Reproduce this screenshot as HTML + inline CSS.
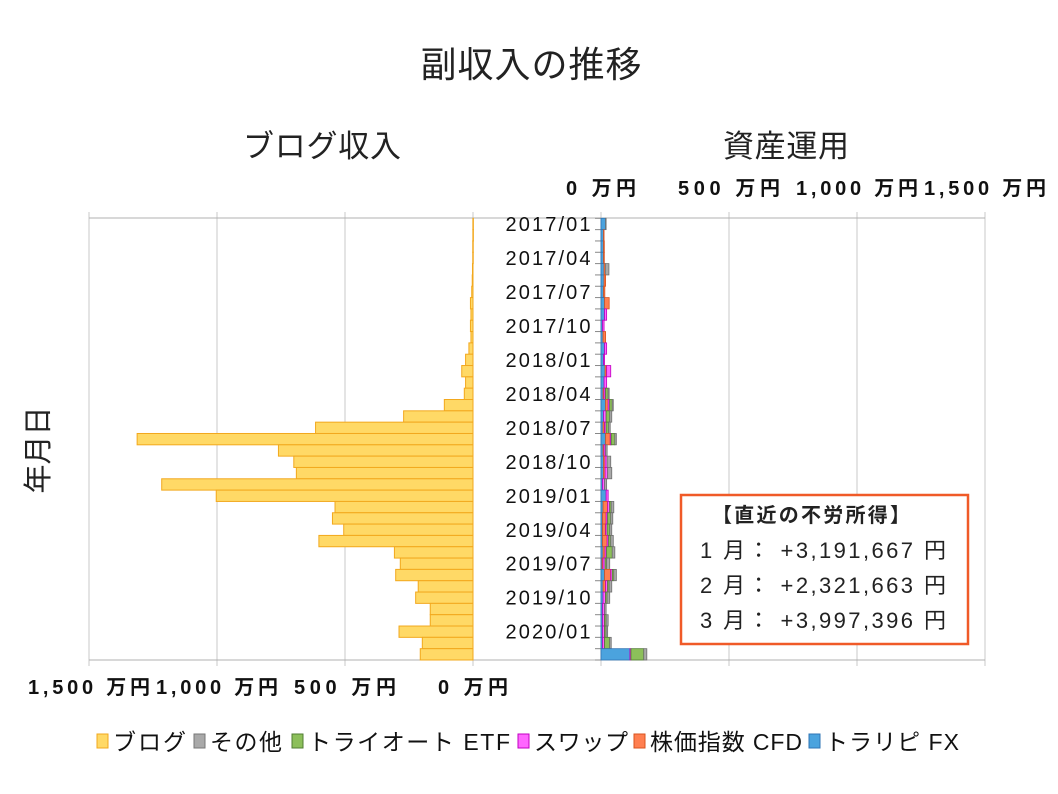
<!DOCTYPE html>
<html><head><meta charset="utf-8"><style>
html,body{margin:0;padding:0;background:#fff;}
svg{display:block;font-family:"Liberation Sans","Noto Sans CJK JP",sans-serif;}
</style></head><body>
<svg id="c" width="1058" height="794" viewBox="0 0 1058 794" xmlns="http://www.w3.org/2000/svg">
<text x="531" y="77" font-size="36" text-anchor="middle" fill="#222" textLength="221">副収入の推移</text>
<text x="322" y="157" font-size="31" text-anchor="middle" fill="#222" textLength="158">ブログ収入</text>
<text x="786" y="157" font-size="31" text-anchor="middle" fill="#222" textLength="126">資産運用</text>
<text x="0" y="0" font-size="29" fill="#222" transform="translate(48,450) rotate(-90)" text-anchor="middle">年月日</text>
<g id="grid"></g>
<g id="marks"></g>
<g id="labels"></g>
<g id="legend"></g>
<rect x="681" y="495" width="287" height="149" fill="#fff" stroke="#F05A28" stroke-width="2.5"/>
<text x="712" y="522" font-size="20" font-weight="bold" fill="#222" textLength="198">【直近の不労所得】</text>
<text x="700" y="558" font-size="22" fill="#222" textLength="246">1 月：  +3,191,667 円</text>
<text x="700" y="593" font-size="22" fill="#222" textLength="246">2 月：  +2,321,663 円</text>
<text x="700" y="628" font-size="22" fill="#222" textLength="246">3 月：  +3,997,396 円</text>
</svg>
<script>
const months = ["2017/01","2017/02","2017/03","2017/04","2017/05","2017/06","2017/07","2017/08","2017/09","2017/10","2017/11","2017/12","2018/01","2018/02","2018/03","2018/04","2018/05","2018/06","2018/07","2018/08","2018/09","2018/10","2018/11","2018/12","2019/01","2019/02","2019/03","2019/04","2019/05","2019/06","2019/07","2019/08","2019/09","2019/10","2019/11","2019/12","2020/01","2020/02","2020/03"];
const blog = [0.5,0.5,1,1,2,3,5,10,8,10,8,16,29,44,29,34,112,271,615,1312,760,700,690,1216,1003,539,549,505,602,307,284,302,214,224,167,167,289,198,206];
const fx =   [18,10,10,10,12,12,10,14,14,6,8,14,10,16,12,8,18,10,8,18,8,10,10,6,20,8,6,6,6,8,4,14,8,8,6,6,6,6,113];
const cfd =  [0,2,3,3,5,6,5,18,0,0,10,0,0,6,0,4,10,0,6,18,4,6,6,0,0,18,14,12,18,8,4,24,10,0,0,0,0,0,0];
const swap = [0,0,0,0,0,0,0,0,8,6,0,8,4,16,10,6,6,10,6,4,6,8,10,8,8,8,6,6,6,6,8,6,8,10,8,8,8,8,4];
const etf =  [0,0,0,0,0,0,0,0,0,0,0,0,0,0,0,10,10,14,10,14,0,0,0,0,0,6,12,10,8,22,6,6,6,6,0,6,6,20,50];
const other= [2,0,0,0,14,0,0,0,0,0,0,0,0,0,0,4,4,8,6,6,6,14,16,8,0,10,8,8,10,10,12,10,10,10,6,8,6,6,12];
const leftTicks = ["1,500 万円","1,000 万円","500 万円","0 万円"];
const leftTickVals = [1500,1000,500,0];
const rightTicks = ["0 万円","500 万円","1,000 万円","1,500 万円"];
const rightTickVals = [0,500,1000,1500];

const NS="http://www.w3.org/2000/svg";
const top0=218.3, bot=660, n=months.length, rowH=(bot-top0)/n;
const L0=473, R0=601, k=128/500;
const xl=v=>L0-v*k, xr=v=>R0+v*k, yr=i=>top0+i*rowH;
function mk(tag,attrs,parent){const e=document.createElementNS(NS,tag);for(const a in attrs)e.setAttribute(a,attrs[a]);parent.appendChild(e);return e;}
function tw(s){return s.startsWith('1,')?122:(s.startsWith('500')?102:70);}
const grid=document.getElementById('grid'), marks=document.getElementById('marks'), labels=document.getElementById('labels'), legend=document.getElementById('legend');
leftTickVals.forEach((v,i)=>{const l=mk('line',{x1:xl(v),x2:xl(v),y1:212,y2:666,stroke:'#c8c8c8','stroke-width':1},grid);


const t=mk('text',{x:xl(v),y:694,'font-size':20,'font-weight':'bold','text-anchor':'middle',fill:'#111',textLength:tw(leftTicks[i])},labels);t.textContent=leftTicks[i];

});
rightTickVals.forEach((v,i)=>{const l=mk('line',{x1:xr(v),x2:xr(v),y1:212,y2:666,stroke:'#c8c8c8','stroke-width':1},grid);


const t=mk('text',{x:xr(v),y:195,'font-size':20,'font-weight':'bold','text-anchor':'middle',fill:'#111',textLength:tw(rightTicks[i])},labels);t.textContent=rightTicks[i];

});
const hl=mk('line',{x1:89,x2:985,y1:218,y2:218,stroke:'#b0b0b0'},grid);


const bl=mk('line',{x1:89,x2:985,y1:bot,y2:bot,stroke:'#b0b0b0'},grid);


const al=mk('line',{x1:R0,x2:R0,y1:218,y2:bot,stroke:'#888'},grid);


for(let i=0;i<=n;i++){const tk=mk('line',{x1:R0-6,x2:R0,y1:yr(i),y2:yr(i),stroke:'#888'},grid);

}
blog.forEach((v,i)=>{const r=mk('rect',{x:xl(v),y:yr(i),width:Math.max(v*k,0.5),height:rowH,fill:'#FFD966',stroke:'#F2A81D','stroke-width':1},marks);

});
const series=[[fx,'#4BA3DE','#2F75B5','fx-bar'],[cfd,'#FF7F50','#D9531E','cfd-bar'],[swap,'#FF66FF','#C000C0','swap-bar'],[etf,'#8CBF5A','#507E32','etf-bar'],[other,'#A9A9A9','#6f6f6f','other-bar']];
for(let i=0;i<n;i++){let acc=0;series.forEach(s=>{const v=s[0][i];if(v>0){const r=mk('rect',{x:xr(acc),y:yr(i),width:v*k,height:rowH,fill:s[1],stroke:s[2],'stroke-width':0.8},marks);


acc+=v;}});}
months.forEach((m,i)=>{if(i%3===0){const t=mk('text',{x:548,y:yr(i)+rowH/2+7,'font-size':20,'text-anchor':'middle',fill:'#111',textLength:85},labels);t.textContent=m;

}});
const leg=[['ブログ','#FFD966','#F2A81D',97,73],['その他','#A9A9A9','#777',194,72],['トライオート ETF','#8CBF5A','#507E32',292,202],['スワップ','#FF66FF','#C000C0',518,94],['株価指数 CFD','#FF7F50','#D9531E',634,152],['トラリピ FX','#4BA3DE','#2F75B5',809,134]];
leg.forEach(e=>{const g=mk('g',{},legend);


mk('rect',{x:e[3],y:734,width:11,height:14,fill:e[1],stroke:e[2]},g);
const t=mk('text',{x:e[3]+16,y:750,'font-size':23,fill:'#111',textLength:e[4]},g);t.textContent=e[0];});
</script>
</body></html>
